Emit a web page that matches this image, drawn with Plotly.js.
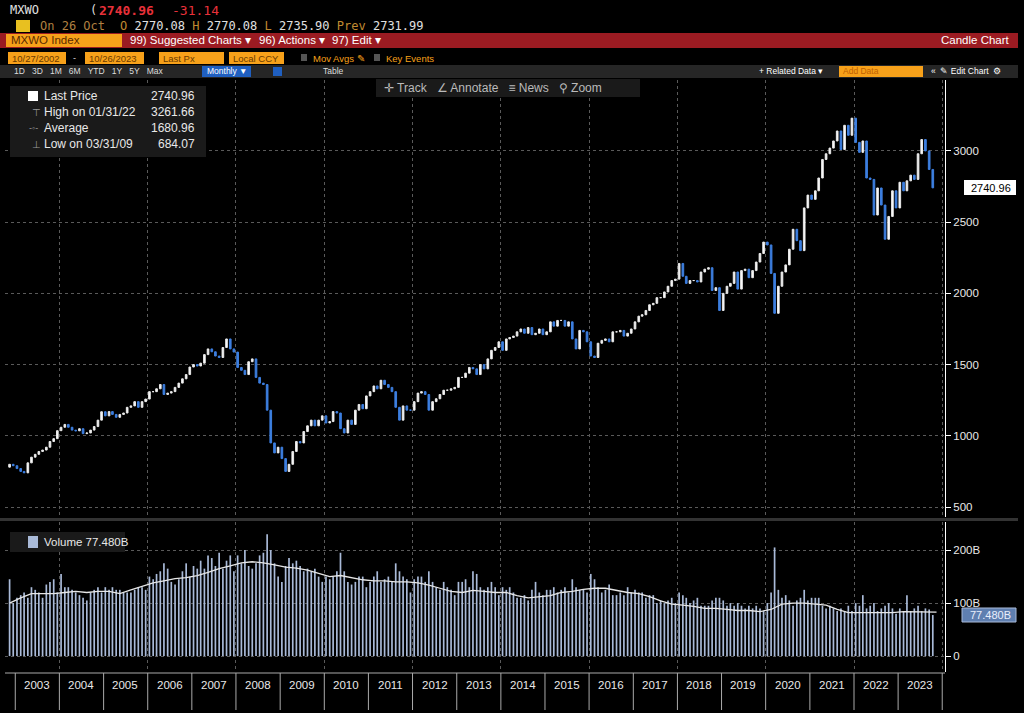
<!DOCTYPE html>
<html><head><meta charset="utf-8">
<script src="https://cdn.plot.ly/plotly-3.0.1.min.js"></script>
<style>html,body{margin:0;padding:0;background:#000;}#chart{width:1024px;height:713px;}</style>
</head><body><div id="chart"></div>
<script>
(function () {
  'use strict';

  /* ── Monthly closes, Nov 2002 .. Oct 2023 ── */
  var closes = [
    800, 790,
    770, 750, 740, 810, 850, 870, 890, 900, 920, 960, 980, 1036,
    1060, 1080, 1060, 1040, 1035, 1050, 1015, 1020, 1040, 1065, 1110, 1169,
    1140, 1170, 1150, 1130, 1150, 1160, 1200, 1210, 1240, 1200, 1240, 1258,
    1310, 1310, 1330, 1360, 1290, 1300, 1310, 1340, 1370, 1400, 1430, 1483,
    1500, 1490, 1510, 1570, 1610, 1590, 1560, 1550, 1620, 1680, 1610, 1588,
    1480, 1460, 1430, 1520, 1540, 1410, 1370, 1360, 1180, 950, 880, 920,
    840, 750, 800, 890, 960, 950, 1030, 1070, 1110, 1070, 1110, 1140,
    1090, 1100, 1170, 1160, 1050, 1020, 1110, 1080, 1180, 1220, 1190, 1280,
    1310, 1350, 1330, 1390, 1360, 1340, 1310, 1200, 1110, 1210, 1180, 1180,
    1240, 1300, 1310, 1290, 1180, 1240, 1260, 1290, 1320, 1320, 1330, 1340,
    1410, 1410, 1440, 1480, 1470, 1430, 1500, 1470, 1540, 1600, 1620, 1660,
    1600, 1680, 1690, 1700, 1730, 1750, 1720, 1760, 1710, 1720, 1750, 1710,
    1730, 1800, 1770, 1810, 1810, 1770, 1800, 1680, 1610, 1740, 1730, 1660,
    1560, 1550, 1650, 1670, 1680, 1660, 1730, 1730, 1740, 1700, 1720, 1750,
    1800, 1840, 1850, 1880, 1920, 1930, 1970, 1970, 2010, 2050, 2090, 2100,
    2210, 2120, 2070, 2090, 2090, 2080, 2150, 2170, 2180, 2020, 2040, 1880,
    2000, 2050, 2070, 2150, 2030, 2160, 2170, 2110, 2160, 2220, 2280, 2360,
    2340, 2140, 1860, 2050, 2150, 2200, 2310, 2450, 2370, 2300, 2600, 2690,
    2660, 2720, 2810, 2940, 2980, 3020, 3070, 3140, 3010, 3180, 3110, 3230,
    3060, 2990, 3070, 2810, 2800, 2550, 2740, 2620, 2380, 2540, 2720, 2600,
    2780, 2720, 2790, 2830, 2800, 2980, 3080, 3000, 2870, 2741
  ];
  var firstOpen = 780;

  /* ── Monthly volume (B) ── */
  var volume = [
    145, 100,
    110, 115, 120, 110, 130, 125, 120, 110, 135, 140, 145, 120,
    155, 130, 130, 125, 120, 115, 110, 105, 120, 125, 130, 120,
    130, 125, 130, 125, 125, 120, 120, 120, 125, 130, 130, 125,
    150, 145, 155, 160, 175, 165, 140, 135, 145, 160, 175, 150,
    170, 165, 180, 165, 190, 185, 170, 195, 165, 180, 190, 160,
    190, 175, 200, 170, 165, 175, 190, 195, 230, 200, 175, 150,
    140, 170, 185, 175, 180, 170, 160, 165, 160, 165, 150, 140,
    150, 145, 150, 160, 195, 160, 140, 135, 140, 150, 150, 130,
    140, 150, 160, 140, 145, 150, 140, 175, 160, 150, 145, 120,
    145, 150, 150, 140, 160, 140, 130, 125, 140, 130, 125, 115,
    140, 140, 145, 130, 160, 155, 130, 125, 130, 140, 130, 115,
    130, 125, 130, 120, 110, 110, 115, 105, 125, 140, 120, 115,
    125, 125, 130, 120, 125, 130, 120, 145, 130, 125, 125, 120,
    155, 145, 130, 120, 125, 135, 115, 115, 120, 115, 130, 120,
    125, 120, 120, 110, 115, 115, 100, 105, 100, 105, 110, 100,
    120, 115, 110, 100, 105, 110, 95, 95, 95, 105, 110, 110,
    105, 95, 100, 95, 100, 95, 90, 95, 90, 95, 90, 85,
    100, 120, 205, 125, 110, 115, 105, 95, 105, 110, 125, 105,
    110, 110, 110, 95, 90, 95, 90, 85, 90, 85, 95, 85,
    100, 95, 115, 90, 95, 100, 85, 90, 95, 100, 90, 80,
    90, 85, 115, 85, 90, 95, 85, 90, 88, 77.48
  ];

  /* ── Volume moving average, quarterly (Q4 2002 .. Q4 2023) ── */
  var volAvg = [
    100,
    110, 118, 118, 118, 120, 122, 120, 122, 122, 118, 125, 132,
    138, 142, 146, 148, 152, 158, 165, 170, 176, 178, 176, 172,
    168, 166, 162, 156, 150, 152, 148, 144, 142, 142, 140, 140,
    138, 134, 128, 122, 120, 124, 122, 120, 120, 114, 110, 112,
    114, 120, 122, 126, 128, 128, 124, 120, 118, 112, 104, 98,
    96, 94, 90, 90, 88, 86, 86, 84, 88, 98, 100, 100,
    98, 96, 88, 82, 82, 82, 82, 82, 84, 84, 84, 83
  ];

  var years = ['2003','2004','2005','2006','2007','2008','2009','2010','2011','2012',
               '2013','2014','2015','2016','2017','2018','2019','2020','2021','2022','2023'];
  var priceTicks = [500, 1000, 1500, 2000, 2500, 3000];

  function pad(n) { return (n < 10 ? '0' : '') + n; }

  /* month dates */
  var dates = [], opens = [], highs = [], lows = [];
  for (var i = 0; i < closes.length; i++) {
    var m = 10 + i, y = 2002 + Math.floor(m / 12);
    dates.push(y + '-' + pad(m % 12 + 1) + '-15');
    var o = i === 0 ? firstOpen : closes[i - 1];
    opens.push(o);
    highs.push(Math.max(o, closes[i]));
    lows.push(Math.min(o, closes[i]));
  }
  var qDates = [];
  for (var q = 0; q < volAvg.length; q++) {
    var qm = 10 + q * 3, qy = 2002 + Math.floor(qm / 12);
    qDates.push(qy + '-' + pad(qm % 12 + 1) + '-15');
  }

  var W = 1024, H = 713, mL = 5, mR = 79, mT = 80, mB = 41;
  var PW = W - mL - mR, PH = H - mT - mB;
  function px(x) { return (x - mL) / PW; }
  function py(y) { return (H - mB - y) / PH; }

  var BLUE = '#3d7fe0', ORANGE = '#f7a11a', RED = '#9b1b22';
  var F = 'Arial, "Liberation Sans", sans-serif';
  var MONO = '"DejaVu Sans Mono", monospace';

  var traces = [
    {
      type: 'candlestick', x: dates, open: opens, high: highs, low: lows, close: closes,
      xaxis: 'x', yaxis: 'y',
      increasing: { line: { color: '#e8e8e8', width: 1 }, fillcolor: '#ffffff' },
      decreasing: { line: { color: BLUE, width: 1 }, fillcolor: BLUE },
      whiskerwidth: 0, showlegend: false, hoverinfo: 'skip'
    },
    {
      type: 'bar', x: dates, y: volume, xaxis: 'x', yaxis: 'y2',
      marker: { color: '#a9bad8', line: { width: 0 } },
      width: 14 * 24 * 3600 * 1000, showlegend: false, hoverinfo: 'skip'
    },
    {
      type: 'scatter', mode: 'lines', x: qDates, y: volAvg, xaxis: 'x', yaxis: 'y2',
      line: { color: '#e6e6e6', width: 1.3 }, showlegend: false, hoverinfo: 'skip'
    }
  ];

  var shapes = [], ann = [];
  function rect(x0, y0, x1, y1, fill, lineColor) {
    shapes.push({ type: 'rect', xref: 'paper', yref: 'paper', x0: px(x0), x1: px(x1), y0: py(y1), y1: py(y0),
      fillcolor: fill, line: { width: lineColor ? 1 : 0, color: lineColor || fill }, layer: 'above' });
  }
  function txt(x, y, s, size, color, anchor, family) {
    ann.push({ xref: 'paper', yref: 'paper', x: px(x), y: py(y), text: s, showarrow: false,
      xanchor: anchor || 'left', yanchor: 'middle',
      font: { family: family || F, size: size, color: color } });
  }

  /* ── Header ── */
  txt(8, 10, 'MXWO', 12, '#e0e0e0', 'left', MONO);
  txt(88, 10, '(', 12, '#dddddd', 'left', MONO);
  txt(97, 10, '<b>2740.96</b>', 13, '#e8313a', 'left', MONO);
  txt(170, 10, '-31.14', 13, '#e8313a', 'left', MONO);
  rect(16, 20, 30, 32, '#e8c020');
  txt(38, 26, 'On 26 Oct', 12, '#b08040', 'left', MONO);
  txt(118, 26, '<span style="color:#c08a30">O</span> 2770.08 <span style="color:#c08a30">H</span> 2770.08 <span style="color:#c08a30">L</span> 2735.90 <span style="color:#c08a30">Prev</span> 2731.99',
      12, '#e0e0e0', 'left', MONO);

  rect(0, 33, 1018, 48, RED);
  rect(6, 34, 122, 47, ORANGE);
  txt(9, 40.5, 'MXWO Index', 11.5, '#5a2a00');
  txt(128, 40.5, '99) Suggested Charts ▾', 11.5, '#ffffff');
  txt(257, 40.5, '96) Actions ▾', 11.5, '#ffffff');
  txt(330, 40.5, '97) Edit ▾', 11.5, '#ffffff');
  txt(1012, 40.5, 'Candle Chart', 11.5, '#ffffff', 'right');

  rect(8, 52, 66, 64, ORANGE); txt(10, 58, '10/27/2002', 9.5, '#6a3a00');
  txt(71, 58, '-', 9, '#dddddd');
  rect(85, 52, 144, 64, ORANGE); txt(87, 58, '10/26/2023', 9.5, '#6a3a00');
  rect(159, 52, 224, 64, ORANGE); txt(161, 58, 'Last Px', 9.5, '#6a3a00');
  rect(229, 52, 284, 64, ORANGE); txt(231, 58, 'Local CCY', 9.5, '#6a3a00');
  rect(301, 54, 307, 61, '#555555'); txt(311, 58, 'Mov Avgs ✎', 9.5, ORANGE);
  rect(374, 54, 380, 61, '#555555'); txt(384, 58, 'Key Events', 9.5, ORANGE);

  rect(0, 65, 1018, 78, '#262626');
  txt(12, 71, '1D&nbsp;&nbsp;&nbsp;3D&nbsp;&nbsp;&nbsp;1M&nbsp;&nbsp;&nbsp;6M&nbsp;&nbsp;&nbsp;YTD&nbsp;&nbsp;&nbsp;1Y&nbsp;&nbsp;&nbsp;5Y&nbsp;&nbsp;&nbsp;Max', 8.5, '#dddddd');
  rect(202, 66, 251, 77, '#1f5fc0'); txt(205, 71, 'Monthly ▼', 8.5, '#ffffff');
  rect(273, 67, 282, 76, '#1f5fc0');
  txt(321, 71, 'Table', 8.5, '#dddddd');
  txt(757, 71, '+ Related Data ▾', 8.5, '#ffffff');
  rect(839, 66, 923, 77, ORANGE); txt(841, 71, 'Add Data', 8.5, '#c06000');
  txt(929, 71, '«&nbsp;&nbsp;✎ Edit Chart&nbsp;&nbsp;⚙', 8.5, '#ffffff');

  /* toolbar inside chart */
  rect(376, 79, 640, 97, '#1a1a1a');
  txt(382, 88, '✛ Track&nbsp;&nbsp;&nbsp;∠ Annotate&nbsp;&nbsp;&nbsp;≡ News&nbsp;&nbsp;&nbsp;⚲ Zoom', 12, '#bbbbbb');

  /* legend box */
  rect(10, 86, 206, 157, '#1a1a1a');
  rect(28, 91, 38, 101, '#ffffff');
  txt(42, 96, 'Last Price', 12, '#e8e8e8'); txt(197, 96, '2740.96', 12, '#e8e8e8', 'right');
  txt(30, 112, '⊤', 10, '#999999'); txt(42, 112, 'High on 01/31/22', 12, '#e8e8e8'); txt(197, 112, '3261.66', 12, '#e8e8e8', 'right');
  txt(27, 128, '-◦-', 9, '#999999'); txt(42, 128, 'Average', 12, '#e8e8e8'); txt(197, 128, '1680.96', 12, '#e8e8e8', 'right');
  txt(30, 144, '⊥', 10, '#999999'); txt(42, 144, 'Low on 03/31/09', 12, '#e8e8e8'); txt(197, 144, '684.07', 12, '#e8e8e8', 'right');

  /* last price tag */
  rect(964, 180, 1016, 195, '#ffffff');
  txt(1013, 187.5, '2740.96', 11, '#000000', 'right');

  /* volume legend */
  rect(10, 532, 125, 552, '#1a1a1a');
  rect(28, 536, 38, 548, '#a9bad8');
  txt(42, 542, 'Volume 77.480B', 11.5, '#e8e8e8');
  rect(962, 608, 1016, 622, '#5f7fb0', '#a9bad8');
  txt(1013, 615, '77.480B', 11, '#e8eefc', 'right');

  /* separator between panels */
  rect(0, 518, 1018, 521, '#333333');

  /* year labels and separators */
  years.forEach(function (yr) {
    ann.push({ xref: 'x', yref: 'paper', x: yr + '-07-01', y: py(693), text: yr, showarrow: false,
      font: { family: F, size: 11.5, color: '#e8e8e8' } });
    shapes.push({ type: 'line', xref: 'x', yref: 'paper', x0: yr + '-01-01', x1: yr + '-01-01',
      y0: py(710), y1: py(673), line: { color: '#aaaaaa', width: 1 } });
  });
  shapes.push({ type: 'line', xref: 'x', yref: 'paper', x0: '2024-01-01', x1: '2024-01-01',
    y0: py(710), y1: py(673), line: { color: '#aaaaaa', width: 1 } });
  shapes.push({ type: 'line', xref: 'paper', yref: 'paper', x0: 0, x1: 1,
    y0: py(673), y1: py(673), line: { color: '#aaaaaa', width: 1 } });

  var layout = {
    width: W, height: H,
    margin: { l: mL, r: mR, t: mT, b: mB },
    paper_bgcolor: '#000', plot_bgcolor: '#000',
    font: { family: F, color: '#e8e8e8' },
    showlegend: false,
    xaxis: {
      type: 'date', range: ['2002-10-08', '2024-01-24'],
      rangeslider: { visible: false },
      showticklabels: false, ticks: '',
      tick0: '2004-01-01', dtick: 'M24',
      showgrid: true, gridcolor: '#5a5a5a', griddash: 'dot', gridwidth: 1,
      zeroline: false, showline: false, anchor: 'y2'
    },
    yaxis: {
      domain: [py(517), 1], range: [430, 3498], side: 'right',
      tickvals: priceTicks, ticks: 'outside', ticklen: 5, tickcolor: '#ffffff',
      tickfont: { family: F, size: 11.5, color: '#e8e8e8' },
      showgrid: true, gridcolor: '#5a5a5a', griddash: 'dot',
      showline: true, linecolor: '#ffffff', zeroline: false
    },
    yaxis2: {
      domain: [0, py(522)], range: [-30, 253], side: 'right',
      tickvals: [0, 100, 200], ticktext: ['0', '100B', '200B'],
      ticks: 'outside', ticklen: 5, tickcolor: '#ffffff',
      tickfont: { family: F, size: 11.5, color: '#e8e8e8' },
      showgrid: true, gridcolor: '#5a5a5a', griddash: 'dot',
      showline: true, linecolor: '#ffffff', zeroline: false
    },
    shapes: shapes, annotations: ann
  };

  Plotly.newPlot('chart', traces, layout, { displayModeBar: false, staticPlot: true });
})();
</script></body></html>
